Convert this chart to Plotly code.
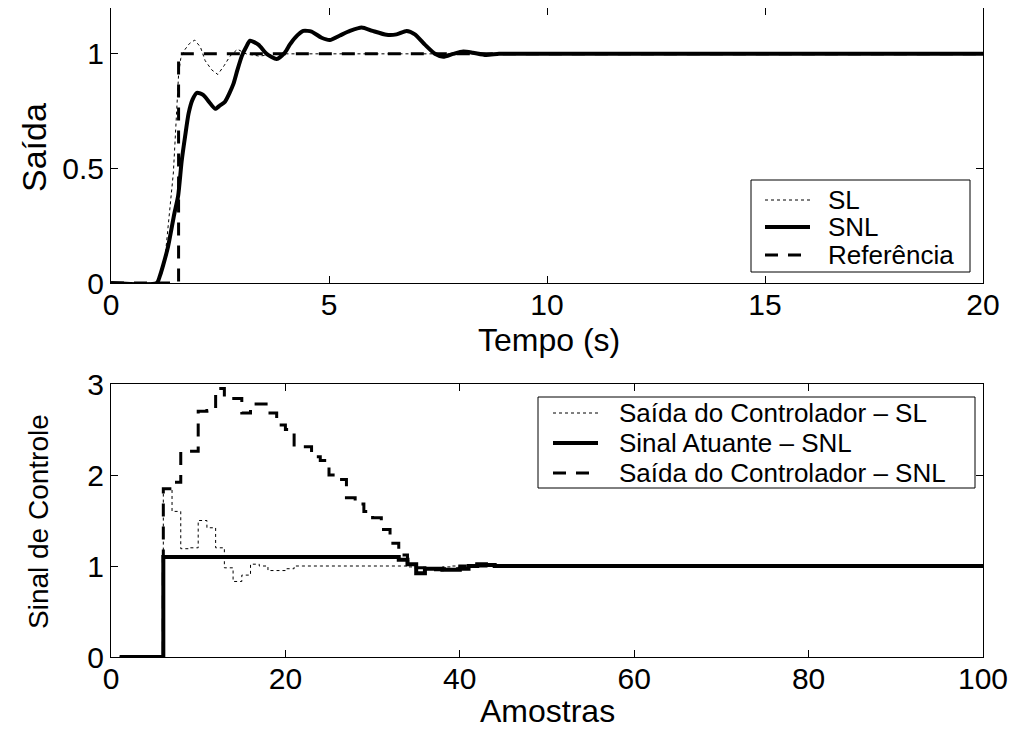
import plotly.graph_objects as go

# ---- Top plot data (Tempo in s) ----
t_snl = [0, 1.05, 1.12, 1.2, 1.31, 1.45, 1.54, 1.62, 1.70, 1.78, 1.87, 1.97, 2.12, 2.25, 2.39, 2.5,
         2.61, 2.72, 2.81, 2.9, 3.0, 3.1, 3.19, 3.38, 3.57, 3.80, 3.99, 4.1, 4.22, 4.41, 4.6, 4.83,
         5.02, 5.25, 5.48, 5.75, 6.0, 6.32, 6.55, 6.78, 6.97, 7.2, 7.43, 7.62, 7.85, 8.08, 8.3, 8.6,
         8.9, 9.3, 10, 20]
y_snl = [0, 0, 0.03, 0.08, 0.16, 0.3, 0.38, 0.53, 0.64, 0.74, 0.8, 0.83, 0.82, 0.79, 0.76, 0.775,
         0.79, 0.83, 0.87, 0.93, 0.99, 1.03, 1.057, 1.04, 1.0, 0.977, 1.006, 1.04, 1.07, 1.10, 1.097, 1.07,
         1.06, 1.08, 1.10, 1.115, 1.10, 1.083, 1.085, 1.10, 1.085, 1.04, 1.0, 0.987, 1.0, 1.01, 1.005, 0.995,
         1.0, 1.0, 1.0, 1.0]

t_sl = [0, 1.0, 1.1, 1.16, 1.24, 1.35, 1.43, 1.47, 1.51, 1.55, 1.6, 1.7, 1.8, 1.92, 2.05, 2.16,
        2.31, 2.45, 2.6, 2.73, 2.9, 3.1, 3.4, 3.8, 20]
y_sl = [0, 0, 0.01, 0.04, 0.11, 0.33, 0.48, 0.62, 0.77, 0.91, 0.98, 1.02, 1.045, 1.06, 1.03, 0.97,
        0.93, 0.91, 0.95, 0.99, 1.02, 1.0, 0.99, 1.0, 1.0]

t_ref = [0, 1.55, 20]
y_ref = [0, 1, 1]

# ---- Bottom plot data (Amostras) ----
n = list(range(1, 101))
u_snl_ctrl = ([0] * 5 +
              [1.85, 1.92, 2.26, 2.26, 2.7, 2.71, 2.95, 2.84, 2.84, 2.68, 2.78, 2.78, 2.68, 2.55, 2.5,
               2.31, 2.31, 2.2, 2.16, 2.0, 1.95, 1.75, 1.68, 1.6, 1.53, 1.4, 1.25, 1.12, 1.05, 0.98,
               0.97, 0.96, 0.97, 0.97, 1.0, 1.01, 1.0] +
              [1.0] * 58)
u_sl_ctrl = ([0] * 5 +
             [1.85, 1.6, 1.19, 1.2, 1.5, 1.42, 1.2, 0.98, 0.83, 0.9, 1.02, 1.0, 0.95, 0.95, 0.97,
              1.0, 1.0, 1.0, 1.0, 1.0, 1.0, 1.0, 1.0, 1.0, 1.0, 1.0, 1.0, 1.0, 0.99, 0.98,
              0.97, 0.98, 0.99, 1.0, 1.0, 1.0, 1.0] +
             [1.0] * 58)
u_act_snl = ([0] * 5 + [1.1] * 27 +
             [1.07, 1.02, 0.92, 0.97, 0.97, 0.96, 0.96, 0.97, 1.0, 1.02, 1.01] +
             [1.0] * 57)

top_legend = ["SL", "SNL", "Referência"]
bottom_legend = ["Saída do Controlador – SL", "Sinal Atuante – SNL", "Saída do Controlador – SNL"]

FONT = "Liberation Sans, Arial, sans-serif"
OFF = 8  # page body margin offset
W, H = 1018 - OFF, 733 - OFF
ML, MT = 111 - OFF, 8 - OFF
MR = W - (983 - OFF)
MB = H - (657 - OFF)
PW, PH = W - ML - MR, H - MT - MB

def px(x):
    return (x - OFF - ML) / PW

def py(y):
    return (H - MB - (y - OFF)) / PH

DOT = "dot"
DASH = "13px,10px"
styles = [dict(width=1, dash=DOT), dict(width=4, dash="solid"), dict(width=3, dash=DASH)]

fig = go.Figure()
fig.add_trace(go.Scatter(x=t_sl, y=y_sl, mode="lines", name=top_legend[0],
                         line=dict(color="black", **styles[0]), xaxis="x", yaxis="y"))
fig.add_trace(go.Scatter(x=t_snl, y=y_snl, mode="lines", name=top_legend[1],
                         line=dict(color="black", shape="spline", smoothing=0.6, **styles[1]),
                         xaxis="x", yaxis="y"))
fig.add_trace(go.Scatter(x=t_ref, y=y_ref, mode="lines", name=top_legend[2],
                         line=dict(color="black", shape="hv", **styles[2]), xaxis="x", yaxis="y"))

fig.add_trace(go.Scatter(x=n, y=u_sl_ctrl, mode="lines", name=bottom_legend[0],
                         line=dict(color="black", shape="hv", **styles[0]), xaxis="x2", yaxis="y2"))
fig.add_trace(go.Scatter(x=n, y=u_act_snl, mode="lines", name=bottom_legend[1],
                         line=dict(color="black", shape="hv", **styles[1]), xaxis="x2", yaxis="y2"))
fig.add_trace(go.Scatter(x=n, y=u_snl_ctrl, mode="lines", name=bottom_legend[2],
                         line=dict(color="black", shape="hv", **styles[2]), xaxis="x2", yaxis="y2"))

axis_common = dict(showgrid=False, zeroline=False, showline=True, linecolor="black", linewidth=1,
                   mirror="ticks", ticks="inside", ticklen=7, tickcolor="black", automargin=False,
                   tickfont=dict(family=FONT, size=30, color="black"))

shapes = []
annotations = []

def add_legend(box, rows, labels, line_x0, line_x1, text_x):
    x0, y0, x1, y1 = box
    shapes.append(dict(type="rect", xref="paper", yref="paper", x0=px(x0), x1=px(x1),
                       y0=py(y1), y1=py(y0), line=dict(color="black", width=1),
                       fillcolor="white", layer="above"))
    for ry, lab, st in zip(rows, labels, styles):
        shapes.append(dict(type="line", xref="paper", yref="paper", x0=px(line_x0), x1=px(line_x1),
                           y0=py(ry), y1=py(ry), line=dict(color="black", **st), layer="above"))
        annotations.append(dict(xref="paper", yref="paper", x=px(text_x), y=py(ry), text=lab,
                                showarrow=False, xanchor="left", yanchor="middle",
                                font=dict(family=FONT, size=26, color="black")))

add_legend((751, 180, 970, 272), [200, 227, 255], top_legend, 765, 810, 826)
add_legend((538, 397, 975, 488), [413, 443, 473], bottom_legend, 553, 598, 617)

# axis titles
annotations += [
    dict(xref="paper", yref="paper", x=px(549), y=py(340), text="Tempo (s)", showarrow=False,
         xanchor="center", yanchor="middle", font=dict(family=FONT, size=32, color="black")),
    dict(xref="paper", yref="paper", x=px(547), y=py(711), text="Amostras", showarrow=False,
         xanchor="center", yanchor="middle", font=dict(family=FONT, size=32, color="black")),
    dict(xref="paper", yref="paper", x=px(34), y=py(148), text="Saída", showarrow=False, textangle=-90,
         xanchor="center", yanchor="middle", font=dict(family=FONT, size=34, color="black")),
    dict(xref="paper", yref="paper", x=px(38), y=py(522), text="Sinal de Controle", showarrow=False,
         textangle=-90, xanchor="center", yanchor="middle", font=dict(family=FONT, size=28, color="black")),
]

fig.update_layout(
    width=W, height=H,
    paper_bgcolor="white", plot_bgcolor="white",
    margin=dict(l=ML, r=MR, t=MT, b=MB),
    font=dict(family=FONT, color="black"),
    showlegend=False,
    xaxis=dict(domain=[0, 1], anchor="y", range=[0, 20], tickvals=[0, 5, 10, 15, 20],
               ticklabelstandoff=-5, **axis_common),
    yaxis=dict(domain=[py(283), 1], anchor="x", range=[0, 1.2], tickvals=[0, 0.5, 1], **axis_common),
    xaxis2=dict(domain=[0, 1], anchor="y2", range=[0, 100], tickvals=[0, 20, 40, 60, 80, 100],
                ticklabelstandoff=-5, **axis_common),
    yaxis2=dict(domain=[0, py(384)], anchor="x2", range=[0, 3], tickvals=[0, 1, 2, 3], **axis_common),
    shapes=shapes,
    annotations=annotations,
)

fig.write_html("out.html")
